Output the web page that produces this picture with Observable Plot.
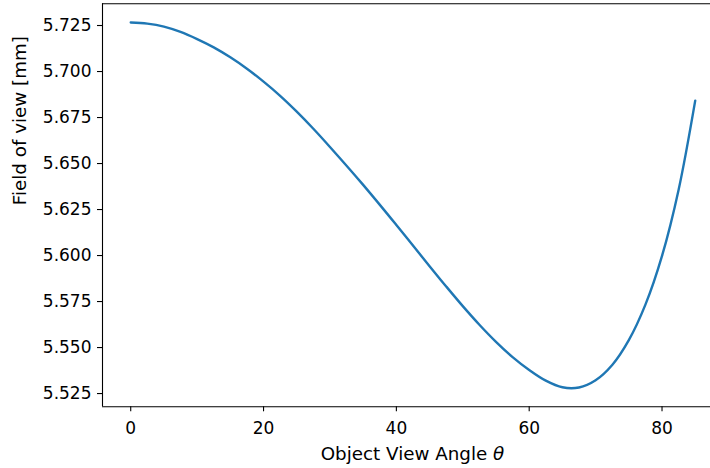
<!DOCTYPE html>
<html>
<head>
<meta charset="utf-8">
<script src="https://cdn.jsdelivr.net/npm/d3@7"></script>
<script src="https://cdn.jsdelivr.net/npm/@observablehq/plot@0.6"></script>
<style>
  html, body { margin: 0; padding: 0; background: white; overflow: hidden; }
</style>
</head>
<body>
<div id="chart"></div>
<script>
// Object view angle (degrees)
const angle = [0, 2.5, 5, 7.5, 10, 12.5, 15, 17.5, 20, 22.5, 25, 27.5, 30, 35, 40, 45, 47.5, 50, 52.5, 55, 57.5, 60, 62.5, 65, 67.5, 70, 72.5, 75, 77.5, 80, 82.5, 85];
// Field of view (mm)
const fov = [5.7266, 5.7260, 5.7244, 5.7215, 5.7176, 5.7131, 5.7077, 5.7015, 5.6945, 5.6868, 5.6782, 5.6689, 5.6590, 5.6384, 5.6166, 5.5942, 5.5832, 5.5725, 5.5624, 5.5531, 5.5448, 5.5378, 5.5320, 5.5284, 5.5283, 5.5322, 5.5405, 5.5540, 5.5733, 5.5998, 5.6358, 5.6842];

const xTicks = [0, 20, 40, 60, 80];
const yTicks = [5.525, 5.550, 5.575, 5.600, 5.625, 5.650, 5.675, 5.700, 5.725];

const xLabel = "Object View Angle θ";
const yLabel = "Field of view [mm]";

const data = angle.map((a, i) => ({angle: a, fov: fov[i]}));

const xDomain = [-4.25, 87.3];
const yDomain = [5.5178, 5.7368];

const plot = Plot.plot({
  width: 710,
  height: 468,
  marginLeft: 102,
  marginRight: 0,
  marginTop: 3.3,
  marginBottom: 61.7,
  style: {fontFamily: "DejaVu Sans", fontSize: "17px", color: "black", background: "white"},
  x: {domain: xDomain},
  y: {domain: yDomain},
  marks: [
    Plot.ruleX([xDomain[0]], {stroke: "black", strokeWidth: 1.1}),
    Plot.ruleY(yDomain, {stroke: "black", strokeWidth: 1.1}),
    Plot.line(data, {x: "angle", y: "fov", stroke: "#1f77b4", strokeWidth: 2.4, curve: "catmull-rom"}),
    Plot.axisX({ticks: xTicks, tickFormat: d => String(d), tickSize: 5, tickPadding: 10, label: null, fontSize: 17, strokeWidth: 1.1}),
    Plot.axisY({ticks: yTicks, tickFormat: d3.format(".3f"), tickSize: 5, tickPadding: 6, label: null, fontSize: 17, strokeWidth: 1.1}),
    Plot.text([xLabel], {frameAnchor: "bottom", dy: 53, dx: 6, text: d => d, fontSize: 18.3}),
    Plot.text([yLabel], {frameAnchor: "left", rotate: -90, dx: -82, text: d => d, fontSize: 18.3})
  ]
});

d3.select(plot).selectAll("text").filter(function() { return this.textContent === xLabel; })
  .each(function() {
    const t = d3.select(this);
    t.text("Object View Angle ");
    t.append("tspan").attr("font-style", "italic").text("θ");
  });

document.getElementById("chart").appendChild(plot);
</script>
</body>
</html>
